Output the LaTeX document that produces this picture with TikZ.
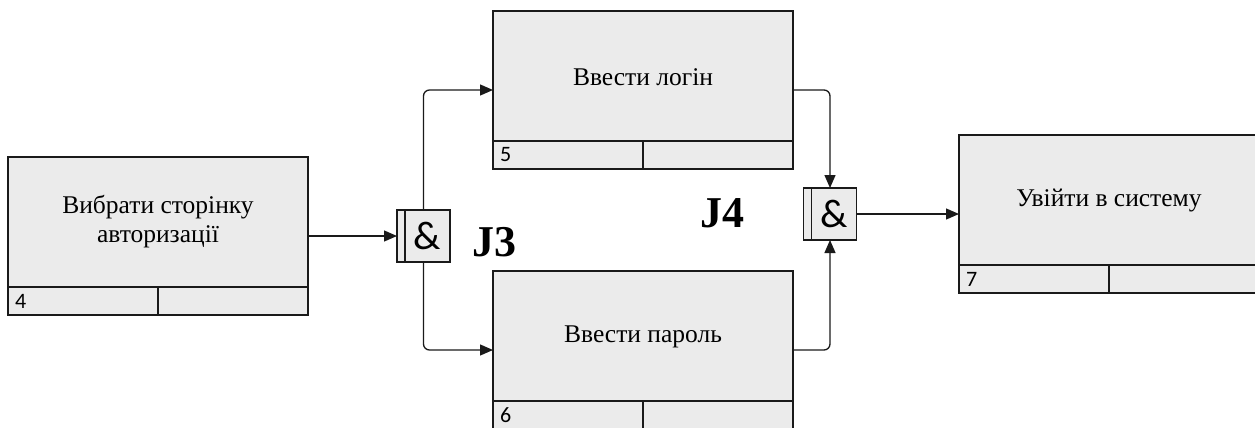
\documentclass[tikz,border=0pt]{standalone}
\usepackage{fontspec}
\setmainfont{Liberation Serif}
\newfontfamily\numfont{Carlito}
\usetikzlibrary{arrows.meta}
\definecolor{boxfill}{HTML}{EBEBEB}
\definecolor{edge}{HTML}{1A1A1A}
\tikzset{
  uobbox/.style={draw=edge, fill=boxfill, line width=1.3pt, minimum width=300pt, minimum height=158pt, inner sep=0pt, outer sep=0pt},
  uobtitle/.style={font=\fontsize{25.5}{29}\selectfont, align=center, text=black},
  uobnum/.style={font=\numfont\fontsize{22}{24}\selectfont, anchor=west, inner sep=0pt},
  junct/.style={draw=edge, fill=boxfill, line width=1.3pt, minimum width=53pt, minimum height=52pt, inner sep=0pt, outer sep=0pt},
  jlabel/.style={font=\fontsize{44}{48}\selectfont\bfseries},
  ampfont/.style={font=\numfont\fontsize{40}{42}\selectfont},
  conn/.style={draw=edge, line width=1.3pt, -{Triangle[length=13pt,width=11pt]}, rounded corners=6pt},
}
\begin{document}
\begin{tikzpicture}[x=1pt,y=1pt]
\useasboundingbox (0,0) rectangle (1255,-428);
\clip (0,0) rectangle (1255,-428);

% activity boxes
\node[uobbox] (b4) at (158,-236) {};
\node[uobbox] (b5) at (643,-90) {};
\node[uobbox] (b6) at (643,-350) {};
\node[uobbox] (b7) at (1109,-214) {};

% footer dividers of the boxes
\foreach \b in {b4,b5,b6,b7} {
  \draw[draw=edge, line width=1.3pt] ([yshift=28pt]\b.south west) -- ([yshift=28pt]\b.south east);
  \draw[draw=edge, line width=1.3pt] ([yshift=28pt]\b.south) -- (\b.south);
}

% titles
\node[uobtitle] (t4) at (158,-222) {Вибрати сторінку\\авторизації};
\node[uobtitle] (t5) at (643,-77) {Ввести логін};
\node[uobtitle] (t6) at (643,-337) {Ввести пароль};
\node[uobtitle] (t7) at (1109,-201) {Увійти в систему};

% box numbers
\node[uobnum] (n4) at ([xshift=7pt,yshift=14pt]b4.south west) {4};
\node[uobnum] (n5) at ([xshift=7pt,yshift=14pt]b5.south west) {5};
\node[uobnum] (n6) at ([xshift=7pt,yshift=14pt]b6.south west) {6};
\node[uobnum] (n7) at ([xshift=7pt,yshift=14pt]b7.south west) {7};

% junctions
\node[junct] (J3) at (423.5,-236) {};
\draw[draw=edge, line width=1.3pt] ([xshift=8pt]J3.north west) -- ([xshift=8pt]J3.south west);
\node[ampfont] (a3) at ([xshift=4pt]J3.center) {\&};
\node[junct] (J4) at (830,-214) {};
\draw[draw=edge, line width=1.3pt] ([xshift=8pt]J4.north west) -- ([xshift=8pt]J4.south west);
\node[ampfont] (a4) at ([xshift=4pt]J4.center) {\&};

\node[jlabel] (L3) at (494,-242) {J3};
\node[jlabel] (L4) at (722,-213) {J4};

% connectors
\draw[conn] (b4.east) -- (J3.west);
\draw[conn] (J3.north) |- (b5.west);
\draw[conn] (J3.south) |- (b6.west);
\draw[conn] (b5.east) -| (J4.north);
\draw[conn] (b6.east) -| (J4.south);
\draw[conn] (J4.east) -- (b7.west);
\end{tikzpicture}
\end{document}
